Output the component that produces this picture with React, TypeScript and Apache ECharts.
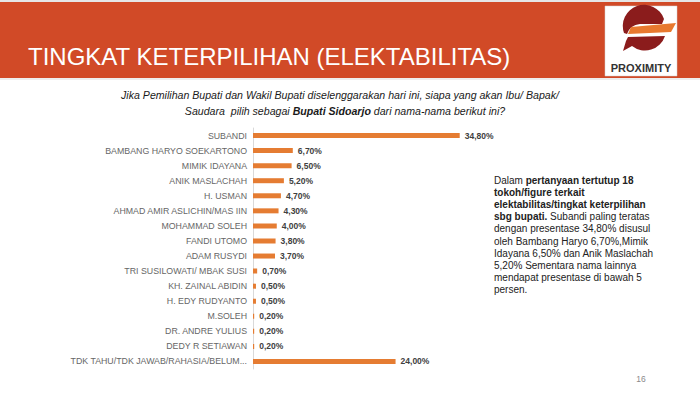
import React, { useEffect, useRef } from "react";
import * as echarts from "echarts";

const categories = [
  "SUBANDI",
  "BAMBANG HARYO SOEKARTONO",
  "MIMIK IDAYANA",
  "ANIK MASLACHAH",
  "H. USMAN",
  "AHMAD AMIR ASLICHIN/MAS IIN",
  "MOHAMMAD SOLEH",
  "FANDI UTOMO",
  "ADAM RUSYDI",
  "TRI SUSILOWATI/ MBAK SUSI",
  "KH. ZAINAL ABIDIN",
  "H. EDY RUDYANTO",
  "M.SOLEH",
  "DR. ANDRE YULIUS",
  "DEDY R SETIAWAN",
  "TDK TAHU/TDK JAWAB/RAHASIA/BELUM...",
];
const values = [34.8, 6.7, 6.5, 5.2, 4.7, 4.3, 4.0, 3.8, 3.7, 0.7, 0.5, 0.5, 0.2, 0.2, 0.2, 24.0];

const title = "TINGKAT KETERPILIHAN (ELEKTABILITAS)";
const pageNumber = "16";

const topPath = "M624,33 A21,21 0 0 1 664,19 L662,24 L640,24 Q630,25 627,34 Z";
const bottomPath = "M628,37 L665,36 A21,21 0 0 1 632,46 L623,51 L626,41 Z";

let registered = false;
function registerShapes() {
  if (registered) return;
  registered = true;
  echarts.graphic.registerShape("logoTop", echarts.graphic.extendPath(topPath, {}) as any);
  echarts.graphic.registerShape("logoBottom", echarts.graphic.extendPath(bottomPath, {}) as any);
}

export default function App() {
  const ref = useRef<HTMLDivElement>(null);
  useEffect(() => {
    if (!ref.current) return;
    registerShapes();
    const chart = echarts.init(ref.current, undefined, { renderer: "svg" });
    const sideFont = "'Liberation Sans', Arial, sans-serif";
    chart.setOption({
      animation: false,
      backgroundColor: "#ffffff",
      grid: { left: 253, top: 128, width: 237.6, height: 241, containLabel: false },
      xAxis: {
        type: "value",
        min: 0,
        max: 40,
        show: false,
      },
      yAxis: {
        type: "category",
        data: categories,
        inverse: true,
        axisLine: { show: true, lineStyle: { color: "#d9d9d9", width: 1 } },
        axisTick: { show: false },
        axisLabel: {
          margin: 6,
          color: "#666666",
          fontSize: 8.8,
          fontFamily: "'Liberation Sans', Arial, sans-serif",
        },
      },
      series: [
        {
          type: "bar",
          data: values,
          barWidth: 5,
          itemStyle: { color: "#E57C32" },
          label: {
            show: true,
            position: "right",
            distance: 5,
            color: "#404040",
            fontSize: 8.5,
            fontWeight: "bold",
            fontFamily: "'Liberation Sans', Arial, sans-serif",
            formatter: (p: any) => p.value.toFixed(2).replace(".", ",") + "%",
          },
        },
      ],
      graphic: [
        { type: "rect", shape: { x: 0, y: 0, width: 700, height: 2 }, style: { fill: "#e6e6e6" } },
        { type: "rect", shape: { x: 0, y: 2, width: 700, height: 76 }, style: { fill: "#D14A27" } },
        { type: "rect", shape: { x: 0, y: 78, width: 700, height: 2 }, style: { fill: "#eeeeee" } },
        {
          type: "text",
          x: 28,
          y: 68,
          style: {
            text: title,
            fill: "#ffffff",
            fontSize: 24,
            fontFamily: sideFont,
            textVerticalAlign: "bottom",
          },
        },
        { type: "rect", shape: { x: 605, y: 6, width: 72, height: 70 }, style: { fill: "#ffffff", stroke: "#d0d0d0", lineWidth: 0.5 } },
        { type: "logoTop", x: 0, y: 0, style: { fill: "#8B1C1C" } },
        { type: "polygon", shape: { points: [[631, 27], [676, 23], [671, 32], [628, 34]] }, style: { fill: "#E8792F" } },
        { type: "logoBottom", x: 0, y: 0, style: { fill: "#8B1C1C" } },
        {
          type: "text",
          x: 641,
          y: 68,
          style: {
            text: "PROXIMITY",
            fill: "#333333",
            fontSize: 11,
            fontWeight: "bold",
            fontFamily: sideFont,
            textAlign: "center",
            textVerticalAlign: "middle",
          },
        },
        {
          type: "text",
          x: 340,
          y: 95,
          style: {
            text: "Jika Pemilihan Bupati dan Wakil Bupati diselenggarakan hari ini, siapa yang akan Ibu/ Bapak/",
            fill: "#1a1a1a",
            fontSize: 10.6,
            fontStyle: "italic",
            fontFamily: sideFont,
            textAlign: "center",
            textVerticalAlign: "middle",
          },
        },
        {
          type: "text",
          x: 345,
          y: 111,
          style: {
            text: "{n|Saudara  pilih sebagai }{b|Bupati Sidoarjo}{n| dari nama-nama berikut ini?}",
            textAlign: "center",
            textVerticalAlign: "middle",
            rich: {
              n: { fontSize: 10.6, fontStyle: "italic", fill: "#1a1a1a", fontFamily: sideFont },
              b: { fontSize: 10.6, fontStyle: "italic", fontWeight: "bold", fill: "#1a1a1a", fontFamily: sideFont },
            },
          },
        },
        {
          type: "text",
          x: 494,
          y: 174,
          style: {
            text: [
              "{n|Dalam }{b|pertanyaan tertutup 18}",
              "{b|tokoh/figure terkait}",
              "{b|elektabilitas/tingkat keterpilihan}",
              "{b|sbg bupati.}{n| Subandi paling teratas}",
              "{n|dengan presentase 34,80% disusul}",
              "{n|oleh Bambang Haryo 6,70%,Mimik}",
              "{n|Idayana 6,50% dan Anik Maslachah}",
              "{n|5,20% Sementara nama lainnya}",
              "{n|mendapat presentase di bawah 5}",
              "{n|persen.}",
            ].join("\n"),
            rich: {
              n: { fontSize: 10, fill: "#222222", fontFamily: sideFont, lineHeight: 12.2 },
              b: { fontSize: 10, fontWeight: "bold", fill: "#222222", fontFamily: sideFont, lineHeight: 12.2 },
            },
          },
        },
        {
          type: "text",
          x: 641,
          y: 379,
          style: {
            text: pageNumber,
            fill: "#8a8a8a",
            fontSize: 8.5,
            fontFamily: sideFont,
            textAlign: "center",
            textVerticalAlign: "middle",
          },
        },
      ],
    });
    return () => chart.dispose();
  }, []);
  return (
    <div
      ref={ref}
      style={{ position: "absolute", left: 0, top: 0, width: 700, height: 393 }}
    />
  );
}
